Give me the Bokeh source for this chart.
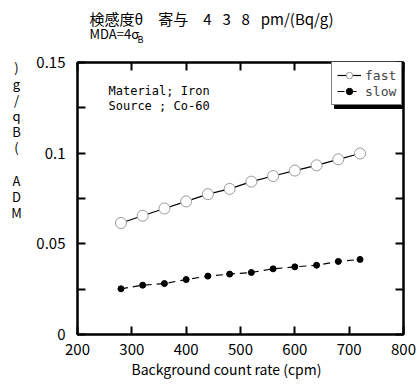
from bokeh.plotting import figure
from bokeh.models import (Range1d, FixedTicker, LinearAxis, Label, Legend, LegendItem, BoxAnnotation)
from bokeh.embed import file_html
from bokeh.resources import INLINE

rate = [280, 320, 360, 400, 440, 480, 520, 560, 600, 640, 680, 720]
fast = [0.0615, 0.0655, 0.0695, 0.0734, 0.0774, 0.0803, 0.0843, 0.0874, 0.0904, 0.0933, 0.0966, 0.0998]
slow = [0.0252, 0.0272, 0.0281, 0.0303, 0.0322, 0.0333, 0.0342, 0.0362, 0.0373, 0.0382, 0.0403, 0.0414]
x_ticks = [200, 300, 400, 500, 600, 700, 800]
y_ticks = [0, 0.05, 0.1, 0.15]
y_minor = [0.025, 0.075, 0.125]
y_tick_labels = {0: "0", 0.05: "0.05", 0.1: "0.1", 0.15: "0.15"}

JP = "Noto Sans CJK JP"
MONO = "DejaVu Sans Mono"

p = figure(frame_width=326, frame_height=272, output_backend="svg", toolbar_location=None,
           x_range=Range1d(200, 800), y_range=Range1d(0, 0.15),
           min_border_left=77, min_border_right=14, min_border_top=62, min_border_bottom=54,
           x_axis_location=None, y_axis_location=None)
p.grid.visible = False
p.outline_line_color = "black"
p.outline_line_width = 2

def style(ax):
    ax.axis_line_width = 2
    ax.major_tick_in = 8
    ax.major_tick_out = 0
    ax.minor_tick_in = 8
    ax.minor_tick_out = 0
    ax.major_tick_line_width = 2
    ax.minor_tick_line_width = 2
    ax.major_label_text_font = JP
    ax.major_label_text_font_size = "15px"
    ax.major_label_text_color = "black"

xt = FixedTicker(ticks=x_ticks)
yt = FixedTicker(ticks=y_ticks, minor_ticks=y_minor)

xb = LinearAxis(ticker=xt); style(xb); xb.major_label_standoff = 9
p.add_layout(xb, "below")
xa = LinearAxis(ticker=xt); style(xa)
xa.major_label_overrides = {t: "" for t in x_ticks}; xa.major_label_standoff = 0
p.add_layout(xa, "above")
yl = LinearAxis(ticker=yt); style(yl)
yl.major_label_overrides = y_tick_labels; yl.major_label_standoff = 12
p.add_layout(yl, "left")
yr = LinearAxis(ticker=yt); style(yr)
yr.major_label_overrides = {t: "" for t in y_ticks}; yr.major_label_standoff = 0
p.add_layout(yr, "right")

r1 = p.line(rate, fast, line_color="black", line_width=1.2)
r1c = p.scatter(rate, fast, size=11, marker="circle", fill_color="white", line_color="#999999", line_width=1)
r2 = p.line(rate, slow, line_color="black", line_width=1.2, line_dash="7 5")
r2c = p.scatter(rate, slow, size=6, marker="circle", fill_color="black", line_color="black")

def lab(text, x, y, size, place="center", font=JP, **kw):
    l = Label(x=x, y=y, x_units="screen", y_units="screen", text=text,
              text_font=font, text_font_size=size, text_color="black",
              text_baseline="top", **kw)
    p.add_layout(l, place)

# titles (above panel, stacked outward from the frame)
lab("検感度θ\u2003寄与\u20034\u2002 3\u2002 8\u2002 pm/(Bq/g)", 12, 55, "15px", "above")
lab("MDA=4σ", 12, 18, "13px", "above")
lab("B", 60, -10, "9px", "above")

# in-plot notes
lab("Material; Iron", 31, 251, "12px", font=MONO)
lab("Source  ; Co-60", 31, 236, "12px", font=MONO)

# y axis label, stacked upright characters
lab(")\ng\n/\nq\nB\n(\n \nA\nD\nM", -6, 277, "13px", "left", text_align="center", text_line_height=0.85)

# x axis label
lab("Background count rate (cpm)", 149, 19, "14px", "below", text_align="center")

# legend (inside the frame, top-right) with a drop shadow
LX, LY, LW, LH = 254, 229, 69, 42
p.add_layout(BoxAnnotation(left=LX + 3, right=LX + LW + 3, bottom=LY - 3, top=LY + LH - 3,
                           left_units="screen", right_units="screen",
                           bottom_units="screen", top_units="screen",
                           fill_color="black", fill_alpha=1, line_color="black", line_alpha=1))
leg = Legend(items=[LegendItem(label="fast", renderers=[r1, r1c]),
                    LegendItem(label="slow", renderers=[r2, r2c])],
             location=(LX, LY), orientation="vertical")
leg.label_text_font = MONO
leg.label_text_font_size = "13px"
leg.glyph_width = 24
leg.glyph_height = 16
leg.label_height = 16
leg.label_standoff = 4
leg.padding = 5
leg.spacing = 0
leg.margin = 0
leg.border_line_color = "black"
leg.border_line_width = 1
leg.background_fill_alpha = 1
p.add_layout(leg, "center")

open("out.html", "w").write(file_html(p, INLINE))
